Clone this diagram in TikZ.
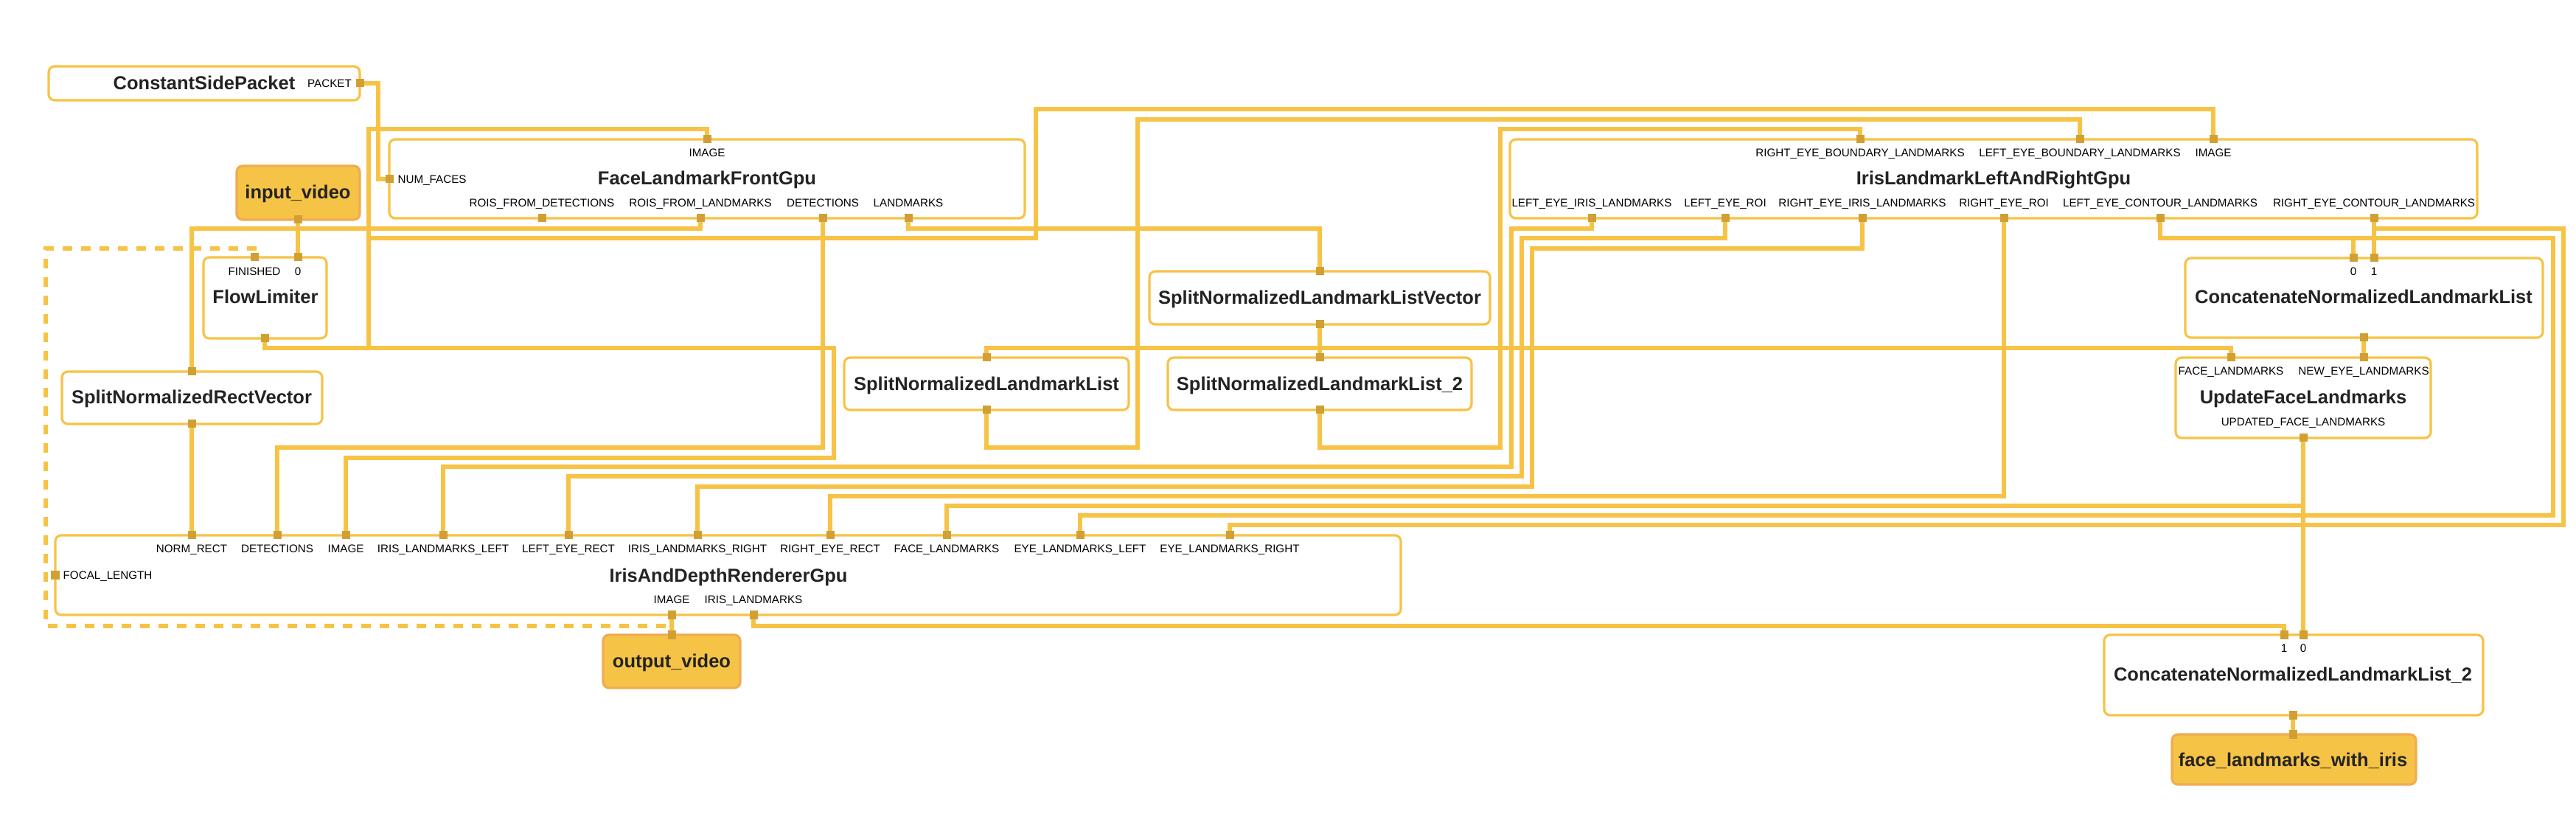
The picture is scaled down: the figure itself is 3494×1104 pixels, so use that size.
\documentclass[tikz,border=0pt]{standalone}
\usepackage{fontspec}
\setmainfont{Liberation Sans}
\usetikzlibrary{fit}
\definecolor{edgec}{RGB}{247,195,70}
\definecolor{portc}{RGB}{208,160,52}
\definecolor{iofill}{RGB}{245,195,70}
\definecolor{ioborder}{RGB}{240,172,82}
\definecolor{txt}{RGB}{35,35,35}
\pgfdeclarelayer{bg}
\pgfsetlayers{bg,main}
\newcommand\mpbox[6][box]{\node[#1, fit={(#3,#4) (#5,#6)}] (#2) {};}
\begin{document}
\begin{tikzpicture}[x=0.01cm,y=-0.01cm,
  box/.style={draw=edgec, line width=0.9pt, rounded corners=0.08cm, fill=white, inner sep=0pt},
  iobox/.style={draw=ioborder, line width=0.9pt, rounded corners=0.08cm, fill=iofill, inner sep=0pt},
  ttl/.style={font=\bfseries\fontsize{7.25pt}{9pt}\selectfont, text=txt, inner sep=0pt, text height=0.183cm, text depth=0pt},
  lbl/.style={font=\fontsize{4.32pt}{5pt}\selectfont, text=black, inner sep=0pt, text height=0.109cm, text depth=0pt},
  port/.style={fill=portc, draw=none, minimum width=0.11cm, minimum height=0.11cm, inner sep=0pt},
  conn/.style={draw=edgec, line width=1.5pt},
  back/.style={conn, dash pattern=on 0.13cm off 0.12cm}
]
\useasboundingbox (0,0) rectangle (3494,1104);

% ---------- boxes ----------
\mpbox{csp}{66}{90}{488}{136}
\mpbox{flf}{528}{189}{1390}{296}
\mpbox[iobox]{inv}{321}{225}{488}{298}
\mpbox{flow}{276}{349}{443}{459}
\mpbox{snrv}{84}{504}{437}{575}
\mpbox{snllv}{1559}{368}{2021}{440}
\mpbox{snll}{1145}{485}{1531}{556}
\mpbox{snlltwo}{1584}{485}{1996}{556}
\mpbox{iris}{2048}{189}{3360}{296}
\mpbox{cat}{2964}{350}{3449}{458}
\mpbox{upd}{2951}{485}{3297}{594}
\mpbox{ren}{75}{726}{1900}{834}
\mpbox[iobox]{outv}{818}{861}{1004}{933}
\mpbox{cattwo}{2854}{861}{3368}{970}
\mpbox[iobox]{flwi}{2946}{996}{3277}{1064}

% ---------- titles ----------
\node[ttl] (csp-t) at (277,112) {ConstantSidePacket};
\node[ttl] (flf-t) at (959,241) {FaceLandmarkFrontGpu};
\node[ttl] (inv-t) at (404,260) {input\_video};
\node[ttl] (flow-t) at (360,402) {FlowLimiter};
\node[ttl] (snrv-t) at (260,538) {SplitNormalizedRectVector};
\node[ttl] (snllv-t) at (1790,403) {SplitNormalizedLandmarkListVector};
\node[ttl] (snll-t) at (1338,520) {SplitNormalizedLandmarkList};
\node[ttl] (snlltwo-t) at (1790,520) {SplitNormalizedLandmarkList\_2};
\node[ttl] (iris-t) at (2704,241) {IrisLandmarkLeftAndRightGpu};
\node[ttl] (cat-t) at (3206,402) {ConcatenateNormalizedLandmarkList};
\node[ttl] (upd-t) at (3124,538) {UpdateFaceLandmarks};
\node[ttl] (ren-t) at (988,780) {IrisAndDepthRendererGpu};
\node[ttl] (outv-t) at (911,896) {output\_video};
\node[ttl] (cattwo-t) at (3110,914) {ConcatenateNormalizedLandmarkList\_2};
\node[ttl] (flwi-t) at (3110,1030) {face\_landmarks\_with\_iris};

% ---------- port labels ----------
\node[lbl] (csp-l) at (447,113) {PACKET};
\node[lbl] (flf-l1) at (959,207) {IMAGE};
\node[lbl, anchor=west] (flf-l2) at (539,243) {NUM\_FACES};
\node[lbl] (flf-l3) at (735,275) {ROIS\_FROM\_DETECTIONS};
\node[lbl] (flf-l4) at (950,275) {ROIS\_FROM\_LANDMARKS};
\node[lbl] (flf-l5) at (1116,275) {DETECTIONS};
\node[lbl] (flf-l6) at (1232,275) {LANDMARKS};
\node[lbl] (flow-l1) at (345,368) {FINISHED};
\node[lbl] (flow-l2) at (404,368) {0};
\node[lbl] (iris-l1) at (2523,207) {RIGHT\_EYE\_BOUNDARY\_LANDMARKS};
\node[lbl] (iris-l2) at (2821,207) {LEFT\_EYE\_BOUNDARY\_LANDMARKS};
\node[lbl] (iris-l3) at (3002,207) {IMAGE};
\node[lbl] (iris-l4) at (2159,275) {LEFT\_EYE\_IRIS\_LANDMARKS};
\node[lbl] (iris-l5) at (2340,275) {LEFT\_EYE\_ROI};
\node[lbl] (iris-l6) at (2526,275) {RIGHT\_EYE\_IRIS\_LANDMARKS};
\node[lbl] (iris-l7) at (2718,275) {RIGHT\_EYE\_ROI};
\node[lbl] (iris-l8) at (2930,275) {LEFT\_EYE\_CONTOUR\_LANDMARKS};
\node[lbl] (iris-l9) at (3220,275) {RIGHT\_EYE\_CONTOUR\_LANDMARKS};
\node[lbl] (cat-l1) at (3192,368) {0};
\node[lbl] (cat-l2) at (3220,368) {1};
\node[lbl] (upd-l1) at (3026,503) {FACE\_LANDMARKS};
\node[lbl] (upd-l2) at (3206,503) {NEW\_EYE\_LANDMARKS};
\node[lbl] (upd-l3) at (3124,572) {UPDATED\_FACE\_LANDMARKS};
\node[lbl] (ren-l1) at (260,744) {NORM\_RECT};
\node[lbl] (ren-l2) at (376,744) {DETECTIONS};
\node[lbl] (ren-l3) at (469,744) {IMAGE};
\node[lbl] (ren-l4) at (601,744) {IRIS\_LANDMARKS\_LEFT};
\node[lbl] (ren-l5) at (771,744) {LEFT\_EYE\_RECT};
\node[lbl] (ren-l6) at (946,744) {IRIS\_LANDMARKS\_RIGHT};
\node[lbl] (ren-l7) at (1126,744) {RIGHT\_EYE\_RECT};
\node[lbl] (ren-l8) at (1284,744) {FACE\_LANDMARKS};
\node[lbl] (ren-l9) at (1465,744) {EYE\_LANDMARKS\_LEFT};
\node[lbl] (ren-l10) at (1668,744) {EYE\_LANDMARKS\_RIGHT};
\node[lbl, anchor=west] (ren-l11) at (85,780) {FOCAL\_LENGTH};
\node[lbl] (ren-l12) at (911,813) {IMAGE};
\node[lbl] (ren-l13) at (1022,813) {IRIS\_LANDMARKS};
\node[lbl] (cattwo-l1) at (3098,879) {1};
\node[lbl] (cattwo-l2) at (3124,879) {0};

% ---------- ports ----------
\node[port] (csp-p) at (488,113) {};
\node[port] (flf-img) at (959,189) {};
\node[port] (flf-nf) at (528,243) {};
\node[port] (flf-rd) at (735,296) {};
\node[port] (flf-rl) at (950,296) {};
\node[port] (flf-det) at (1116,296) {};
\node[port] (flf-lm) at (1232,296) {};
\node[port] (inv-o) at (404,298) {};
\node[port] (flow-fin) at (345,349) {};
\node[port] (flow-0) at (404,349) {};
\node[port] (flow-o) at (359,459) {};
\node[port] (snrv-i) at (260,504) {};
\node[port] (snrv-o) at (260,575) {};
\node[port] (snllv-i) at (1790,368) {};
\node[port] (snllv-o) at (1790,440) {};
\node[port] (snll-i) at (1338,485) {};
\node[port] (snll-o) at (1338,556) {};
\node[port] (snlltwo-i) at (1790,485) {};
\node[port] (snlltwo-o) at (1790,556) {};
\node[port] (iris-reb) at (2523,189) {};
\node[port] (iris-leb) at (2821,189) {};
\node[port] (iris-img) at (3002,189) {};
\node[port] (iris-leil) at (2159,296) {};
\node[port] (iris-ler) at (2340,296) {};
\node[port] (iris-reil) at (2526,296) {};
\node[port] (iris-rer) at (2718,296) {};
\node[port] (iris-lec) at (2930,296) {};
\node[port] (iris-rec) at (3220,296) {};
\node[port] (cat-0) at (3192,350) {};
\node[port] (cat-1) at (3220,350) {};
\node[port] (cat-o) at (3206,458) {};
\node[port] (upd-fl) at (3026,485) {};
\node[port] (upd-ne) at (3206,485) {};
\node[port] (upd-o) at (3124,594) {};
\node[port] (ren-nr) at (260,726) {};
\node[port] (ren-det) at (376,726) {};
\node[port] (ren-img) at (469,726) {};
\node[port] (ren-ill) at (601,726) {};
\node[port] (ren-ler) at (771,726) {};
\node[port] (ren-ilr) at (946,726) {};
\node[port] (ren-rer) at (1126,726) {};
\node[port] (ren-fl) at (1284,726) {};
\node[port] (ren-el) at (1465,726) {};
\node[port] (ren-er) at (1668,726) {};
\node[port] (ren-focal) at (75,780) {};
\node[port] (ren-oimg) at (911,834) {};
\node[port] (ren-oiris) at (1022,834) {};
\node[port] (outv-i) at (911,861) {};
\node[port] (cattwo-1) at (3098,861) {};
\node[port] (cattwo-0) at (3124,861) {};
\node[port] (cattwo-o) at (3110,970) {};
\node[port] (flwi-i) at (3110,996) {};

% ---------- junctions ----------
\coordinate (jthr) at (500,472);
\coordinate (jthr2) at (500,323);
\coordinate (jfl) at (1790,472);
\coordinate (jlec) at (3192,323);
\coordinate (jrec) at (3220,310);
\coordinate (jupd) at (3124,686);
\coordinate (jback) at (903,849);

% ---------- connectors ----------
\begin{pgfonlayer}{bg}
\draw[conn] (csp-p.center) -- (513,113) |- (flf-nf.center);
\draw[conn] (inv-o.center) -- (flow-0.center);
\draw[back] (jback) -- (62,849) |- (345,337) -- (flow-fin.center);
\draw[conn] (ren-oimg.center) -- (outv-i.center);
\draw[conn] (flow-o.center) |- (1131,472) |- (469,621) -- (ren-img.center);
\draw[conn] (jthr) -- (500,175) -| (flf-img.center);
\draw[conn] (jthr2) -- (1405,323) -- (1405,148) -| (iris-img.center);
\draw[conn] (flf-rl.center) -- (950,310) -| (snrv-i.center);
\draw[conn] (snrv-o.center) -- (ren-nr.center);
\draw[conn] (flf-det.center) -- (1116,607) -| (ren-det.center);
\draw[conn] (flf-lm.center) -- (1232,310) -| (snllv-i.center);
\draw[conn] (snllv-o.center) -- (snlltwo-i.center);
\draw[conn] (jfl) -| (snll-i.center);
\draw[conn] (jfl) -| (upd-fl.center);
\draw[conn] (snll-o.center) -- (1338,607) -- (1543,607) -- (1543,162) -| (iris-leb.center);
\draw[conn] (snlltwo-o.center) -- (1790,607) -- (2035,607) -- (2035,175) -| (iris-reb.center);
\draw[conn] (iris-leil.center) -- (2159,310) -- (2050,310) -- (2050,633) -| (ren-ill.center);
\draw[conn] (iris-ler.center) -- (2340,323) -- (2064,323) -- (2064,646) -| (ren-ler.center);
\draw[conn] (iris-reil.center) -- (2526,337) -- (2078,337) -- (2078,660) -| (ren-ilr.center);
\draw[conn] (iris-rer.center) -- (2718,673) -| (ren-rer.center);
\draw[conn] (iris-lec.center) -- (2930,323) -- (3463,323) -- (3463,699) -| (ren-el.center);
\draw[conn] (jlec) -- (cat-0.center);
\draw[conn] (iris-rec.center) -- (cat-1.center);
\draw[conn] (jrec) -- (3477,310) -- (3477,712) -| (ren-er.center);
\draw[conn] (cat-o.center) -- (upd-ne.center);
\draw[conn] (upd-o.center) -- (cattwo-0.center);
\draw[conn] (jupd) -| (ren-fl.center);
\draw[conn] (ren-oiris.center) -- (1022,849) -| (cattwo-1.center);
\draw[conn] (cattwo-o.center) -- (flwi-i.center);
\end{pgfonlayer}
\end{tikzpicture}
\end{document}
